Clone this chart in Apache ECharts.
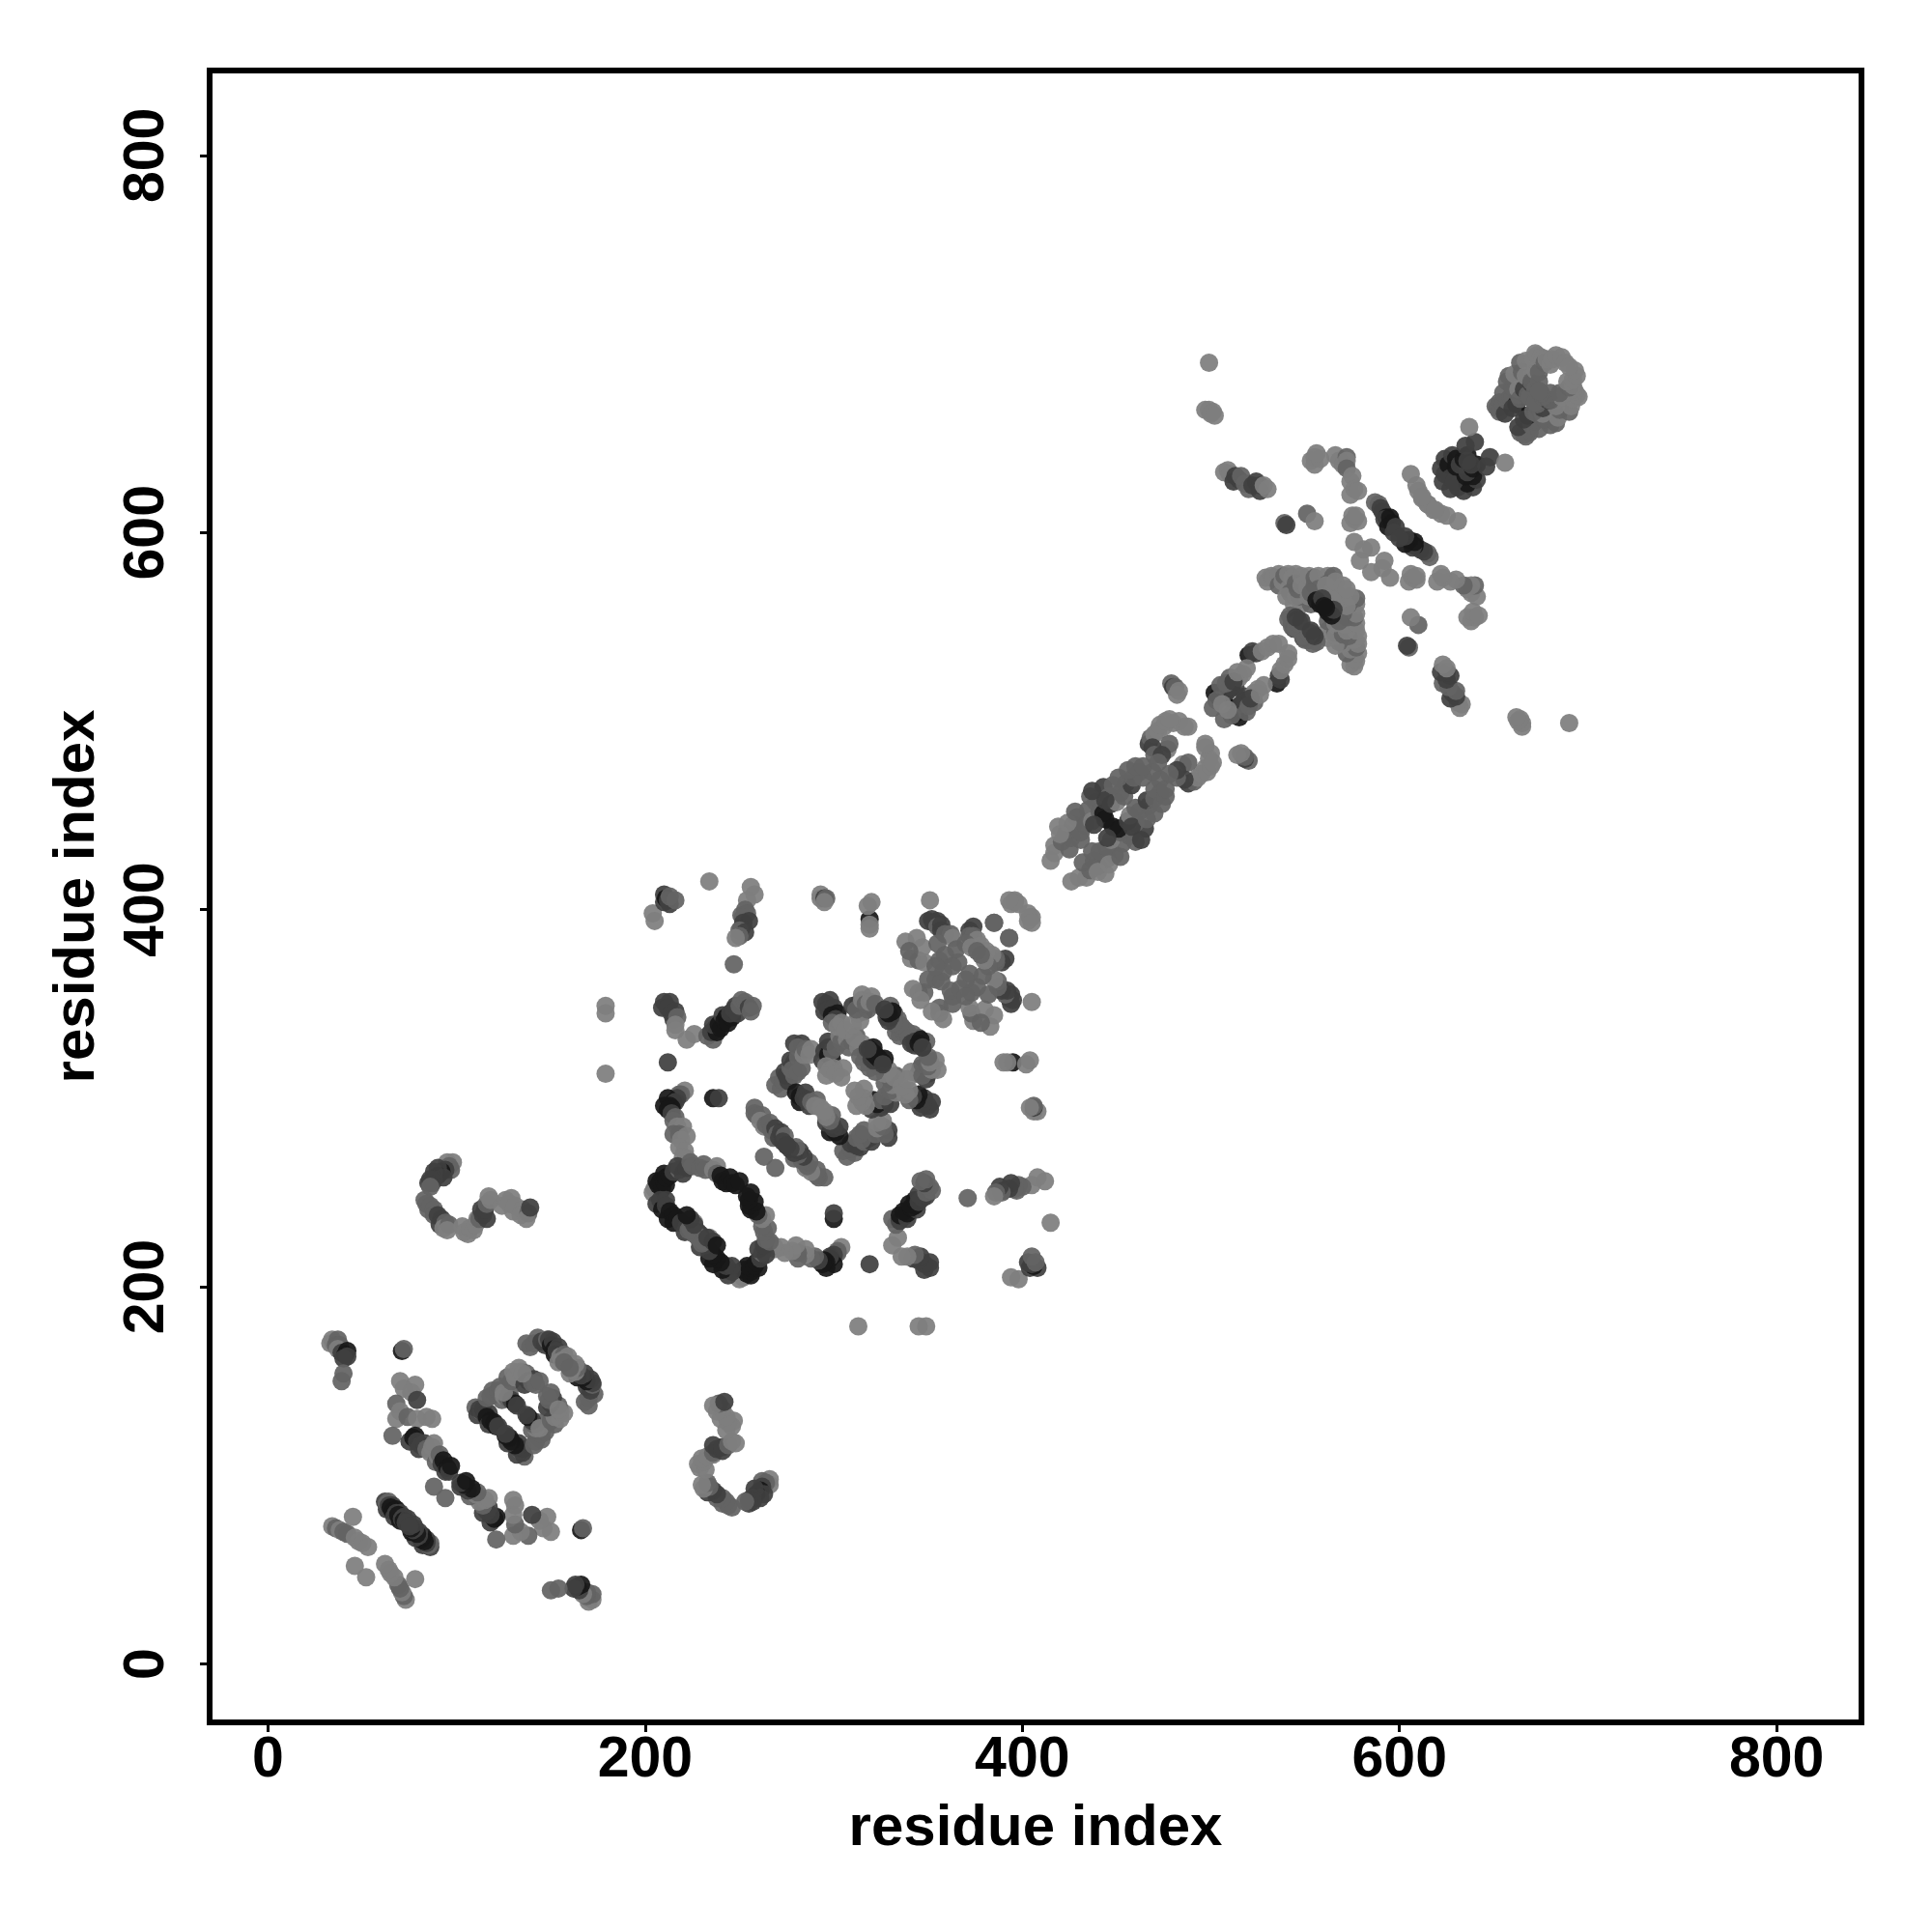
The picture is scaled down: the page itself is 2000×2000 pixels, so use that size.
<!DOCTYPE html>
<html><head><meta charset="utf-8">
<style>html,body{margin:0;padding:0;background:#fff}#c{width:2000px;height:2000px}</style>
<script src="https://cdn.jsdelivr.net/npm/echarts@6/dist/echarts.min.js"></script></head>
<body><div id="c"></div>
<script>
// contacts: [residue i, residue j, strength 1..4]; the map is symmetric
const xTicks=[0,200,400,600,800];
const yTicks=[0,200,400,600,800];
const axisTitle="residue index";
const earlyA=[[33,170,1],[34,172,1],[35,170,1],[37,172,2],[36,169,2],[38,169,2],[37,167,1],[39,165,3],[42,166,4],[41,164,4],[40,162,3],[42,163,3],[40,154,2],[39,150,2],[71,166,4],[72,167,2],[70,150,1],[72,146,1],[78,148,1],[76,144,1],[79,140,3],[68,138,2],[70,134,1],[68,130,1],[66,121,2],[74,131,2],[79,130,1],[84,131,1],[87,130,1],[75,118,3],[77,120,4],[78,121,4],[79,118,3],[80,114,3],[81,116,3],[83,117,3],[84,114,2],[86,112,1],[87,115,1],[88,117,1],[89,107,2],[90,110,1],[91,111,2],[92,106,3],[93,108,4],[94,102,3],[95,104,4],[96,102,3],[97,105,4]];
const earlyB=[[34,73,1],[36,72,2],[38,71,1],[40,70,2],[42,69,2],[45,78,1],[46,67,1],[48,65,1],[50,64,1],[53,62,1],[46,52,1],[62,86,3],[64,86,2],[63,82,3],[63,85,2],[64,84,3],[66,84,3],[65,83,4],[66,81,4],[68,82,4],[67,78,3],[68,80,3],[70,80,3],[69,79,4],[70,76,4],[71,77,3],[72,78,3],[72,76,4],[74,77,3],[73,75,3],[88,94,2]];
const earlyC=[[110,136,2],[111,132,3],[113,134,2],[112,135,3],[114,135,3],[115,132,3],[117,133,3],[116,131,4],[117,127,3],[118,129,4],[120,128,4],[121,126,4],[122,126,3],[116,141,2],[119,145,2],[121,143,2],[118,142,2],[122,145,2],[123,147,2],[124,140,2],[125,142,1],[127,141,2],[128,143,2],[129,140,3],[131,138,4],[132,137,3],[125,144,1],[127,152,2],[129,150,2],[130,155,1],[131,152,1],[133,157,1],[134,155,1],[136,152,1],[137,154,2],[136,148,3],[138,150,3],[141,151,3],[140,149,2],[142,148,2],[144,150,2],[135,154,1],[137,170,2],[139,168,2],[141,170,2],[143,173,2],[145,171,3],[147,169,3],[148,172,2],[149,172,3],[150,169,4],[151,171,3],[152,167,4],[154,168,3],[152,164,4],[153,166,3],[155,163,1],[157,164,2],[154,160,1],[156,161,1],[159,163,1],[157,160,2]];
const earlyD=[[95,266,1],[98,266,1],[96,264,2],[97,262,2],[94,262,3],[92,261,4],[90,263,3],[90,259,4],[93,258,3],[88,261,3],[88,257,3],[87,255,3],[86,257,3],[85,255,3],[86,253,2],[83,246,2],[84,244,2],[85,241,2],[86,243,2],[88,241,2],[88,238,2],[90,238,3],[92,236,3],[91,233,3],[94,234,2],[93,231,1],[96,233,2],[95,230,1],[104,229,1],[103,232,1],[106,228,1],[107,231,1],[109,230,1],[110,233,1],[111,236,1],[112,236,2],[114,238,3],[116,236,3],[113,241,3],[115,241,3],[116,244,2],[118,246,1],[117,248,1],[124,243,1],[126,246,1],[129,247,1],[128,244,1],[130,240,1],[131,243,1],[135,241,1],[134,238,1],[138,239,2],[137,236,1],[139,242,3]];
const midA=[[204,398,1],[205,394,1],[210,404,3],[210,408,3],[211,406,4],[213,403,3],[212,405,3],[213,407,2],[216,405,2],[234,415,1],[256,412,1],[258,408,1],[254,405,1],[253,400,2],[251,397,2],[254,398,2],[252,396,2],[255,394,3],[252,393,3],[251,390,3],[250,389,2],[253,388,3],[250,386,2],[248,385,1],[247,371,2],[293,406,1],[293,408,1],[295,406,3],[296,406,2],[319,395,4],[319,392,1],[320,404,1],[318,402,1],[179,349,1],[179,345,1],[179,313,1],[209,348,3],[210,351,3],[213,351,3],[212,348,3],[214,345,3],[216,346,3],[215,342,3],[217,343,2],[216,339,1],[216,336,1],[222,331,1],[226,334,1],[212,319,3],[233,333,2],[236,331,2],[235,335,3],[237,337,3],[238,335,4],[236,339,3],[239,339,4],[240,337,4],[241,344,3],[242,341,4],[243,343,4],[244,340,4],[246,343,4],[245,345,3],[247,347,3],[248,349,3],[249,345,3],[250,349,2],[251,352,2],[253,351,2],[254,349,2],[255,348,3],[256,346,2],[257,349,2]];
const midB=[[221,304,1],[218,302,2],[219,302,2],[217,300,3],[212,300,4],[215,298,4],[216,298,3],[213,296,4],[210,296,4],[214,295,4],[212,294,4],[214,292,3],[216,290,2],[215,288,2],[217,285,1],[220,285,1],[218,281,2],[215,281,2],[222,280,1],[219,278,1],[218,274,1],[221,272,1],[220,269,1],[222,268,1],[236,300,4],[239,300,3],[204,250,1],[205,252,1],[207,254,4],[206,256,4],[208,256,4],[209,252,4],[210,256,4],[211,254,4],[210,260,4],[211,258,4],[213,259,4],[215,261,3],[218,262,2],[217,264,3],[220,260,3],[222,263,3],[224,266,2],[225,264,2],[229,263,2],[231,265,2],[232,262,2],[236,262,1],[238,264,1],[238,260,2],[240,259,4],[241,256,4],[243,255,4],[245,258,4],[246,255,4],[248,254,4],[250,256,4],[206,244,3],[208,246,3],[209,241,4],[211,246,3],[211,243,3],[213,240,4],[212,236,4],[215,238,4],[215,234,4],[217,236,4],[219,234,3],[222,232,3],[221,229,3],[224,231,2],[226,234,1],[228,229,3],[226,228,2],[229,226,2],[230,223,2],[233,226,3],[236,224,3],[238,222,4]];
const midC=[[258,295,2],[258,292,2],[259,291,2],[262,291,2],[261,288,1],[263,285,1],[264,286,2],[266,287,2],[267,283,2],[268,279,2],[269,284,3],[270,281,2],[272,282,3],[271,279,3],[274,280,2],[273,277,3],[275,275,3],[263,269,2],[269,307,2],[272,305,2],[271,311,2],[273,309,2],[274,314,3],[276,309,3],[275,312,3],[279,312,2],[277,316,2],[277,320,3],[279,319,3],[278,315,2],[281,322,2],[281,314,2],[283,316,2],[283,329,3],[279,329,3],[281,327,2],[284,323,1],[285,326,2],[288,326,1],[287,323,1],[280,303,4],[282,298,4],[282,301,4],[285,303,3],[284,300,3],[287,296,3],[286,299,3],[288,298,2],[291,299,2],[290,296,1],[293,295,1],[295,325,3],[294,320,3],[297,327,3],[299,321,4],[297,323,4],[299,325,2],[297,330,3],[301,327,2],[303,333,1],[304,330,2],[307,331,1],[308,327,2],[312,333,2],[310,330,2],[315,329,1],[313,327,1],[294,351,3],[298,352,3],[296,350,3],[295,346,3],[297,347,3],[300,348,3],[302,345,4],[299,344,4],[301,342,3],[299,340,2],[302,338,1],[304,340,1],[306,336,1],[296,317,1],[298,315,1],[300,316,1],[296,312,1],[301,313,1],[305,316,1],[304,311,1],[311,332,1],[310,349,3],[313,350,3],[313,345,3],[316,346,3],[314,341,1],[310,339,1],[312,347,2],[318,347,2],[315,355,1],[315,352,1],[317,350,2],[320,354,1],[319,351,1],[322,350,2],[314,322,2],[317,324,2],[316,319,2],[320,321,3],[319,326,4],[321,327,4],[322,323,4],[324,321,4],[326,318,3]];
const midD=[[327,347,3],[329,346,3],[330,349,2],[328,343,3],[331,342,2],[332,345,3],[333,339,2],[334,342,2],[336,338,2],[335,333,2],[337,335,2],[339,335,2],[340,332,2],[341,329,3],[343,330,3],[345,329,4],[346,331,4],[347,327,3],[344,385,1],[338,383,1],[341,374,1],[345,373,2],[348,372,1],[345,356,2],[348,356,2],[351,405,1],[350,394,3],[352,395,3],[355,394,3],[353,393,3],[355,391,2],[357,392,3],[357,389,3],[359,387,2],[362,387,2],[363,385,1],[356,373,2],[359,376,2],[363,370,2],[366,372,2],[350,363,2],[354,363,2],[357,362,2],[358,367,2],[372,389,3],[374,391,3],[372,386,2],[374,386,2],[376,384,1],[378,381,1],[385,393,2],[393,385,2],[394,403,1],[396,405,1],[398,403,1],[404,396,1],[405,393,1],[319,390,1],[295,404,1],[347,380,1],[340,378,2],[355,382,2],[365,379,2],[370,382,2],[373,380,1],[354,370,2],[342,358,1],[346,352,1],[376,378,2]];
const lateA=[[415,426,1],[417,434,1],[417,430,1],[419,444,1],[421,436,2],[423,440,2],[425,432,2],[426,438,2],[427,445,2],[429,449,2],[431,437,2],[431,441,2],[433,445,2],[435,453,2],[437,447,1],[439,457,2],[441,452,2],[443,465,3],[443,451,4],[446,460,2],[448,444,4],[447,456,3],[450,457,1],[452,462,2],[455,467,2],[454,460,2],[458,466,3],[459,470,2],[462,473,2],[464,470,2],[469,473,2],[420,440,1],[424,446,1],[428,452,2],[436,460,2],[438,445,3],[444,458,3],[448,466,2],[451,470,2],[456,474,2],[460,476,2],[464,476,2],[437,463,3]];
const lateB=[[467,488,3],[468,491,2],[470,493,1],[472,495,1],[475,497,1],[477,485,1],[478,488,2],[480,499,1],[483,500,1],[486,497,1],[488,497,1],[479,520,2],[480,518,3],[481,518,2],[482,514,1],[483,516,1],[501,507,2],[502,515,4],[504,513,4],[507,513,4],[509,516,3],[510,523,2],[511,518,3],[513,518,3],[515,523,1],[517,525,1],[520,535,4],[522,537,3],[524,536,3],[527,537,1],[530,539,1],[533,541,1],[536,541,1],[473,498,1],[476,500,1],[478,501,1],[469,486,3],[470,482,2],[474,482,3],[472,478,2],[503,511,2],[505,519,2],[508,520,2],[512,521,3],[514,526,1],[519,528,1],[506,509,1]];
const lateC=[[529,576,1],[530,574,1],[532,577,1],[533,576,1],[536,578,1],[536,572,2],[538,574,1],[539,577,2],[541,570,1],[541,578,1],[543,576,1],[542,568,2],[540,566,1],[544,562,1],[548,562,1],[547,566,2],[551,566,1],[553,562,2],[545,578,1],[545,566,1],[546,570,2],[545,573,2],[548,577,1],[548,572,1],[551,571,1],[552,577,1],[552,566,1],[555,576,2],[555,572,2],[557,577,1],[557,570,2],[553,568,2],[562,577,1],[562,573,2],[565,577,2],[561,572,1],[565,570,1],[563,566,1],[566,568,1],[566,574,1],[570,572,1],[556,564,4],[558,562,4],[559,565,3],[561,560,4],[541,554,2],[543,552,2],[542,556,2],[546,554,3],[544,549,3],[547,552,2],[548,548,2],[549,545,2],[550,543,2],[552,546,2],[555,545,3],[553,548,3],[497,665,1],[499,690,1],[499,665,1],[501,664,1],[500,663,1],[502,662,1],[507,632,1],[509,633,1],[510,631,1],[512,627,3],[513,630,3],[515,628,3],[516,630,2],[518,626,2],[520,623,2],[522,625,3],[524,627,3],[526,625,3],[526,622,3],[528,625,1],[530,623,1],[539,605,2],[540,604,3],[551,610,2],[555,606,1]];
const lateD=[[553,638,1],[555,640,1],[555,636,1],[558,639,1],[556,642,1],[566,641,1],[568,638,1],[570,636,1],[572,640,2],[572,638,1],[572,634,2],[575,630,1],[574,627,1],[576,623,1],[574,620,1],[578,622,1],[574,605,1],[576,607,1],[575,609,1],[578,606,1],[577,609,1],[576,595,1],[581,591,1],[585,592,1],[579,585,1],[587,616,2],[589,615,2],[590,613,3],[591,611,3],[593,608,4],[592,607,3],[595,608,4],[596,605,4],[594,603,4],[598,603,3],[597,600,3],[606,631,1],[609,625,1],[610,622,1],[612,618,1],[615,615,1],[619,612,1]];
const lateE=[[622,634,3],[623,627,3],[624,631,3],[624,639,3],[626,636,4],[627,629,3],[628,641,3],[630,639,4],[630,635,4],[632,636,3],[634,639,4],[636,641,4],[638,636,3],[640,648,3],[635,646,3],[637,656,1],[651,667,2],[652,666,2],[653,669,2],[653,664,2],[655,668,2],[656,663,3],[657,670,2],[657,680,2],[655,674,2],[659,672,2],[660,672,2],[660,677,2],[658,683,2],[662,668,4],[660,666,3],[663,673,2],[663,676,1],[661,684,1],[664,690,2],[664,671,2],[665,685,2],[666,676,3],[667,683,1],[668,673,2],[669,672,2],[667,691,1],[670,679,3],[670,680,2],[672,676,2],[672,686,1],[672,695,1],[671,692,1],[673,694,1],[674,680,2],[674,688,1],[675,674,2],[674,685,2],[675,693,1],[676,692,1],[677,690,2],[678,692,1],[680,689,1],[681,692,1],[683,694,1],[686,693,1],[688,690,1]];
const groups=[earlyA,earlyB,earlyC,earlyD,midA,midB,midC,midD,lateA,lateB,lateC,lateD,lateE];
const shade={1:'#7e7e7e',2:'#636363',3:'#404040',4:'#181818'};
const pts=[];
groups.forEach(g=>g.forEach(p=>{pts.push([p[0],p[1],p[2]]);pts.push([p[1],p[0],p[2]]);}));
const tickFont={fontFamily:'"Liberation Sans"',fontWeight:'bold',fontSize:59,color:'#000'};
const titleFont={fontFamily:'"Liberation Sans"',fontWeight:'bold',fontSize:60,color:'#000'};
const tick={show:true,length:10,lineStyle:{color:'#000',width:3}};
const chart=echarts.init(document.getElementById('c'),null,{renderer:'canvas'});
chart.setOption({animation:false,backgroundColor:'#fff',
 grid:{show:true,left:217,top:73,width:1710,height:1710,borderColor:'#000',borderWidth:6,backgroundColor:'#fff'},
 xAxis:{type:'value',min:-31,max:845,splitLine:{show:false},axisLine:{show:false,onZero:false},
  axisTick:{...tick,customValues:xTicks},axisLabel:{...tickFont,margin:10,customValues:xTicks,hideOverlap:false},
  name:axisTitle,nameLocation:'middle',nameGap:80,nameTextStyle:titleFont},
 yAxis:{type:'value',min:-31,max:845,splitLine:{show:false},axisLine:{show:false,onZero:false},
  axisTick:{...tick,customValues:yTicks},axisLabel:{...tickFont,margin:35,rotate:90,customValues:yTicks,hideOverlap:false},
  name:axisTitle,nameLocation:'middle',nameGap:107,nameTextStyle:titleFont},
 series:[{type:'scatter',data:pts,symbolSize:19,silent:true,itemStyle:{opacity:0.93,color:p=>shade[p.value[2]]}}]
});
</script></body></html>
